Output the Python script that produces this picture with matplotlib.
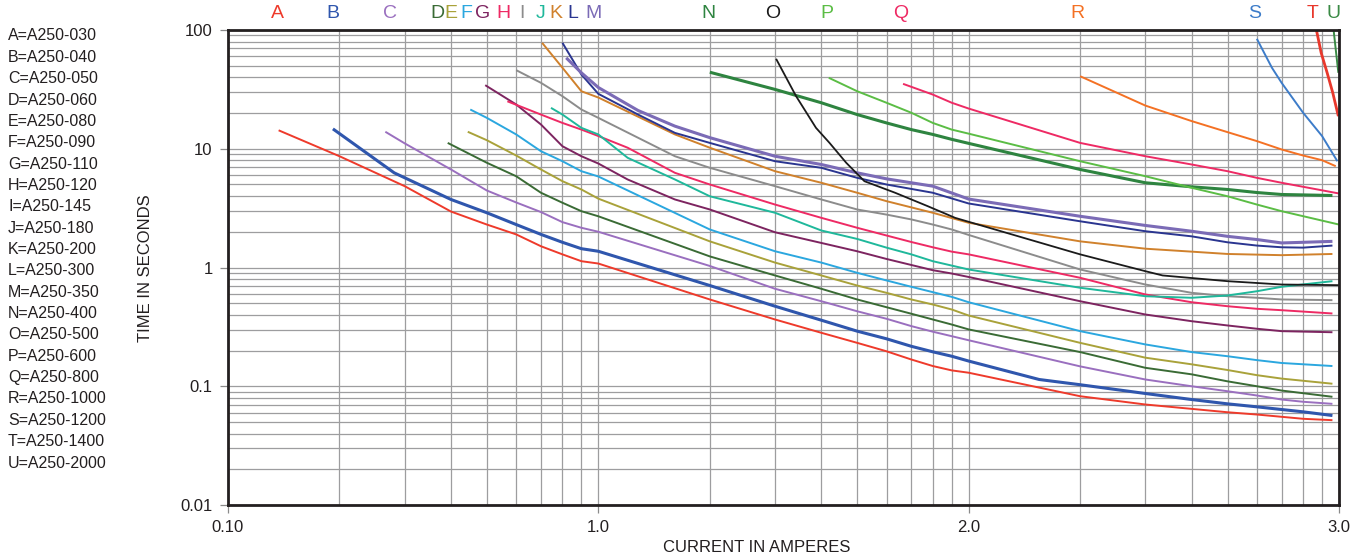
import matplotlib
matplotlib.use("Agg")
import matplotlib.pyplot as plt
from matplotlib.transforms import blended_transform_factory
from matplotlib.ticker import FixedLocator, NullFormatter

plt.rcParams['font.family'] = ['Liberation Sans', 'DejaVu Sans']

# ---------------- data ----------------
codes = ["A", "B", "C", "D", "E", "F", "G", "H", "I", "J", "K",
         "L", "M", "N", "O", "P", "Q", "R", "S", "T", "U"]
legend_labels = ["A=A250-030", "B=A250-040", "C=A250-050", "D=A250-060",
                 "E=A250-080", "F=A250-090", "G=A250-110", "H=A250-120",
                 "I=A250-145", "J=A250-180", "K=A250-200", "L=A250-300",
                 "M=A250-350", "N=A250-400", "O=A250-500", "P=A250-600",
                 "Q=A250-800", "R=A250-1000", "S=A250-1200", "T=A250-1400",
                 "U=A250-2000"]
x_tick_values = [1, 10, 100, 1000]
x_tick_labels = ["0.10", "1.0", "2.0", "3.0"]
y_tick_values = [0.01, 0.1, 1, 10, 100]
y_tick_labels = ["0.01", "0.1", "1", "10", "100"]

A_i = [1.37, 2, 3, 4, 5, 6, 7, 8, 9, 10, 20, 30, 40, 50, 60, 70, 80, 90, 100,
       200, 300, 400, 500, 600, 700, 800, 960]
A_t = [14.3, 8.65, 4.84, 2.96, 2.30, 1.90, 1.51, 1.29, 1.13, 1.08, 0.538, 0.365,
       0.282, 0.232, 0.197, 0.168, 0.148, 0.136, 0.130, 0.0824, 0.0702, 0.0645,
       0.0604, 0.0578, 0.0553, 0.0532, 0.0518]

B_i = [1.92, 2.81, 4, 5, 6, 7, 8, 9, 10, 20, 30, 40, 50, 60, 70, 80, 90, 100,
       155, 200, 300, 400, 500, 600, 700, 800, 960]
B_t = [14.7, 6.27, 3.74, 2.89, 2.30, 1.90, 1.63, 1.44, 1.37, 0.705, 0.472, 0.360,
       0.291, 0.251, 0.217, 0.195, 0.179, 0.163, 0.114, 0.103, 0.0869, 0.0773,
       0.0711, 0.0671, 0.0637, 0.0609, 0.0567]

C_i = [2.66, 3, 4, 5, 6, 7, 8, 9, 10, 20, 30, 40, 50, 60, 70, 80, 90, 100,
       200, 300, 400, 500, 600, 700, 800, 960]
C_t = [13.9, 11.1, 6.69, 4.45, 3.53, 2.93, 2.41, 2.16, 2.00, 1.03, 0.662, 0.520,
       0.428, 0.370, 0.321, 0.288, 0.264, 0.244, 0.147, 0.114, 0.100, 0.0908,
       0.0836, 0.0773, 0.0740, 0.0711]

D_i = [3.92, 5, 6, 7, 8, 9, 10, 20, 30, 40, 50, 60, 70, 80, 90, 100,
       200, 300, 400, 500, 600, 700, 960]
D_t = [11.2, 7.62, 5.87, 4.26, 3.51, 2.98, 2.70, 1.24, 0.857, 0.662, 0.538, 0.463,
       0.408, 0.365, 0.331, 0.301, 0.194, 0.143, 0.126, 0.110, 0.100, 0.092, 0.0815]

E_i = [4.44, 5, 6, 7, 8, 9, 10, 20, 30, 40, 50, 60, 70, 80, 90, 100,
       200, 300, 400, 500, 600, 700, 960]
E_t = [13.9, 11.8, 8.77, 6.69, 5.33, 4.54, 3.8, 1.66, 1.10, 0.857, 0.705, 0.612,
       0.538, 0.488, 0.443, 0.394, 0.232, 0.174, 0.153, 0.137, 0.124, 0.116, 0.105]

F_i = [4.51, 5, 6, 7, 8, 9, 10, 20, 30, 40, 50, 60, 70, 80, 90, 100,
       200, 300, 400, 500, 600, 700, 960]
F_t = [21.4, 18.2, 13.2, 9.53, 7.85, 6.47, 5.84, 2.09, 1.37, 1.10, 0.902, 0.778,
       0.688, 0.620, 0.566, 0.510, 0.291, 0.225, 0.194, 0.179, 0.166, 0.157, 0.148]

G_i = [4.95, 6, 7, 8, 9, 10, 12, 16.1, 20, 30, 40, 50, 60, 70, 80, 90, 100,
       200, 300, 400, 500, 600, 700, 960]
G_t = [34.3, 23.6, 16.0, 10.5, 8.65, 7.51, 5.51, 3.74, 3.08, 1.98, 1.61, 1.37,
       1.18, 1.05, 0.949, 0.890, 0.832, 0.520, 0.402, 0.353, 0.325, 0.305, 0.291,
       0.285]

H_i = [5.68, 7, 8, 9, 10, 12, 16.1, 20, 30, 40, 50, 60, 70, 80, 90, 100,
       200, 300, 400, 500, 600, 700, 960]
H_t = [25.1, 19.4, 16.5, 14.5, 12.8, 10.2, 6.27, 5.00, 3.39, 2.62, 2.16, 1.86,
       1.64, 1.48, 1.36, 1.29, 0.819, 0.593, 0.510, 0.472, 0.449, 0.437, 0.410]

I_i = [6.0, 7, 8, 9, 10, 16.1, 20, 30, 40, 50, 60, 70, 80, 90, 100,
       200, 300, 400, 500, 600, 700, 960]
I_t = [45.9, 35.9, 27.7, 21.4, 18.2, 8.65, 6.91, 4.84, 3.74, 3.08, 2.79, 2.54,
       2.30, 2.09, 1.88, 0.962, 0.719, 0.612, 0.573, 0.556, 0.538, 0.531]

J_i = [7.45, 8, 9, 10, 12, 16.1, 20, 30, 40, 50, 60, 70, 80, 100,
       200, 300, 400, 500, 600, 700, 960]
J_t = [22.1, 19.4, 15.0, 13.2, 8.39, 5.51, 3.98, 2.89, 2.05, 1.74, 1.47, 1.29,
       1.13, 0.962, 0.675, 0.573, 0.556, 0.581, 0.631, 0.688, 0.767]

K_i = [7.05, 8, 9, 10, 16.1, 20, 30, 40, 50, 60, 80, 100,
       200, 300, 400, 500, 700, 960]
K_t = [78.0, 48.1, 30.5, 27.0, 13.2, 10.2, 6.47, 5.17, 4.26, 3.62, 2.89, 2.38,
       1.66, 1.44, 1.36, 1.30, 1.27, 1.30]

L_i = [8.0, 9, 10, 12.8, 16.1, 20, 30, 40, 50, 60, 80, 100,
       200, 300, 400, 500, 600, 700, 800, 960]
L_t = [78.0, 42.2, 29.0, 19.4, 13.6, 11.2, 7.85, 6.91, 5.69, 5.00, 4.26, 3.46,
       2.45, 2.02, 1.83, 1.63, 1.53, 1.48, 1.47, 1.53]

M_i = [8.19, 9, 10, 12.8, 16.1, 20, 30, 40, 50, 60, 80, 100,
       200, 300, 400, 500, 600, 700, 800, 960]
M_t = [58.3, 43.6, 32.8, 21.0, 15.5, 12.4, 8.65, 7.37, 6.27, 5.58, 4.84, 3.77,
       2.70, 2.26, 2.02, 1.83, 1.72, 1.61, 1.63, 1.66]

N_i = [20, 30, 40, 50, 60, 70, 80, 90, 100, 200, 300, 400, 500, 600, 700, 960]
N_t = [44.1, 31.6, 24.4, 19.4, 16.5, 14.5, 13.2, 12.0, 11.1, 6.69, 5.17, 4.78,
       4.54, 4.28, 4.12, 4.04]

O_i = [30.2, 34.2, 38.7, 42.1, 46.7, 52.3, 63.3, 77.6, 91.9, 200, 300, 334,
       500, 700, 1000]
O_t = [57.2, 27.7, 15.0, 11.2, 7.62, 5.33, 4.26, 3.28, 2.62, 1.29, 0.931, 0.857,
       0.767, 0.719, 0.710]

P_i = [41.9, 50, 60, 70, 80, 90, 100, 200, 300, 400, 500, 600, 700, 1000]
P_t = [39.6, 30.5, 24.4, 20.1, 16.5, 14.5, 13.4, 7.85, 5.87, 4.69, 3.98, 3.39,
       2.98, 2.30]

Q_i = [66.5, 80, 90, 100, 200, 300, 400, 500, 600, 700, 1000]
Q_t = [35.2, 28.6, 24.4, 21.8, 11.2, 8.65, 7.37, 6.47, 5.69, 5.17, 4.20]

R_i = [200, 300, 400, 500, 600, 700, 800, 900, 980]
R_t = [40.8, 23.1, 17.1, 13.8, 11.6, 9.86, 8.77, 8.01, 7.13]

S_i = [600, 659, 700, 800, 900, 990]
S_t = [84.3, 48.1, 35.9, 20.1, 12.8, 7.85]

T_i = [869, 895, 929, 962, 996]
T_t = [100, 64.3, 43.6, 29.6, 18.8]

U_i = [967, 980, 996]
U_t = [100, 68.5, 43.6]

# ---------------- style ----------------
colors = {
    "A": "#ee3a2b", "B": "#2f56ad", "C": "#9a6fbf", "D": "#3a6b35",
    "E": "#a9a23a", "F": "#2ba7df", "G": "#7d2460", "H": "#ee2a64",
    "I": "#8c8c8c", "J": "#1fb89b", "K": "#d0812c", "L": "#2a3590",
    "M": "#7b6bb6", "N": "#2e8440", "O": "#1a1a1a", "P": "#5bbd45",
    "Q": "#ee2a64", "R": "#f47124", "S": "#3d7cc9", "T": "#e8382c",
    "U": "#3a8a45",
}
widths = {c: 1.4 for c in codes}
widths.update({"B": 2.2, "M": 2.2, "N": 2.2, "O": 1.3, "T": 2.0})

series = {
    "A": (A_i, A_t), "B": (B_i, B_t), "C": (C_i, C_t), "D": (D_i, D_t),
    "E": (E_i, E_t), "F": (F_i, F_t), "G": (G_i, G_t), "H": (H_i, H_t),
    "I": (I_i, I_t), "J": (J_i, J_t), "K": (K_i, K_t), "L": (L_i, L_t),
    "M": (M_i, M_t), "N": (N_i, N_t), "O": (O_i, O_t), "P": (P_i, P_t),
    "Q": (Q_i, Q_t), "R": (R_i, R_t), "S": (S_i, S_t), "T": (T_i, T_t),
    "U": (U_i, U_t),
}

# positions (x in data units) of the code letters above the plot
letter_x = [1.36, 1.92, 2.74, 3.67, 4.0, 4.39, 4.88, 5.53, 6.22, 7.0, 7.69,
            8.55, 9.73, 19.8, 29.6, 41.5, 65.7, 197, 590, 846, 964]

W, H = 1365, 560
fig = plt.figure(figsize=(W / 100, H / 100), dpi=100)
ax = fig.add_axes([228 / W, 1 - 505 / H, (1339 - 228) / W, (505 - 30) / H])
ax.set_xscale("log")
ax.set_yscale("log")
ax.set_xlim(1, 1000)
ax.set_ylim(0.01, 100)

grid_col = "#9d9d9f"
ax.grid(True, which="both", color=grid_col, lw=0.9, zorder=0)
ax.set_axisbelow(True)

for c in codes:
    xs, ys = series[c]
    ax.plot(xs, ys, color=colors[c], lw=widths[c], solid_capstyle="butt",
            zorder=3, clip_on=True)

ax.xaxis.set_major_locator(FixedLocator(x_tick_values))
ax.set_xticklabels(x_tick_labels)
ax.yaxis.set_major_locator(FixedLocator(y_tick_values))
ax.set_yticklabels(y_tick_labels)
ax.xaxis.set_minor_formatter(NullFormatter())
ax.yaxis.set_minor_formatter(NullFormatter())
ax.tick_params(which="major", direction="out", length=6, width=0.9,
               color="#8a8a8a", labelsize=12, labelcolor="#231f20", pad=5)
ax.tick_params(which="minor", length=0)

for s in ax.spines.values():
    s.set_color("#231f20")
    s.set_linewidth(2.0)
    s.set_zorder(5)

trans = blended_transform_factory(ax.transData, ax.transAxes)
for c, lx in zip(codes, letter_x):
    ax.text(lx, 1 + 16 / 475, c, transform=trans, ha="center", va="center",
            fontsize=14, color=colors[c], clip_on=False)

for k, lab in enumerate(legend_labels):
    fig.text(8 / W, 1 - (36 + k * 21.35) / H, lab, ha="left", va="center",
             fontsize=11.5, color="#231f20")

fig.text(145 / W, 1 - 268 / H, "TIME IN SECONDS", rotation=90, ha="center",
         va="center", fontsize=12, color="#231f20")
fig.text(757 / W, 1 - 548 / H, "CURRENT IN AMPERES", ha="center", va="center",
         fontsize=12, color="#231f20")

fig.savefig("out.png", dpi=100)
